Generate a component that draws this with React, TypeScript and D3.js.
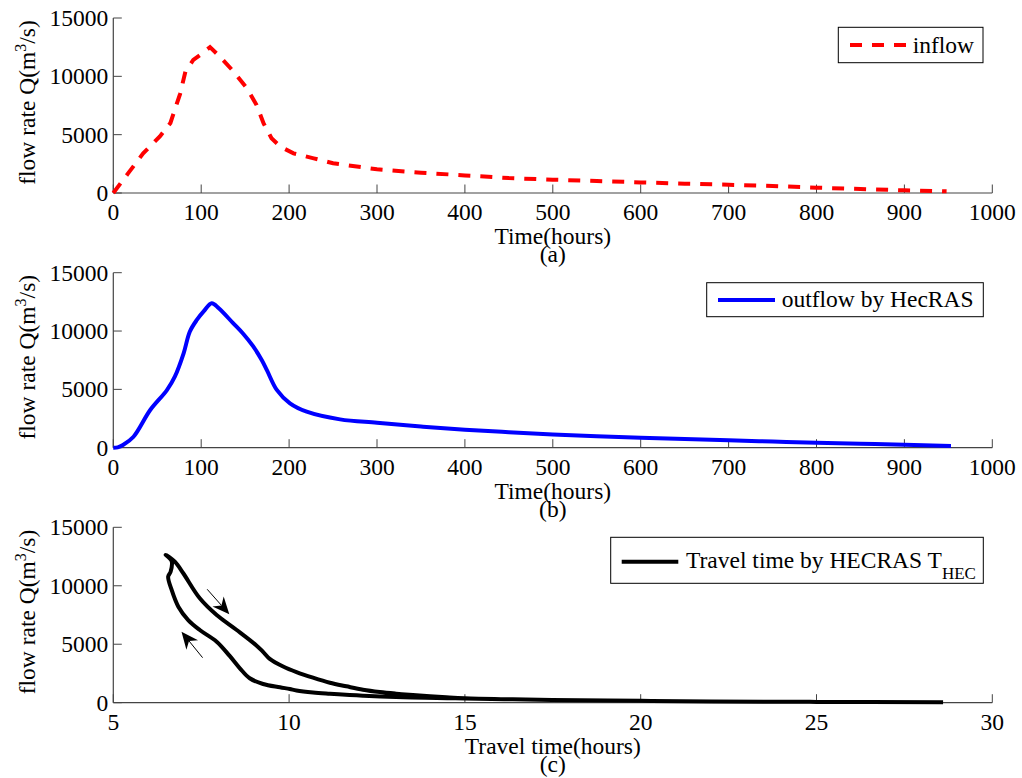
import React from "react";
import * as d3 from "d3";

// ---------- data ----------
const inflowTime = [0, 17, 34, 53, 65, 76, 82, 91, 99, 110, 121, 137, 152, 163, 171, 180, 190, 205, 228, 250, 300, 350, 400, 450, 500, 550, 600, 650, 700, 750, 800, 850, 900, 948];
const inflowQ = [0, 1700, 3400, 4850, 6000, 8500, 10400, 11400, 11850, 12500, 11700, 10400, 8970, 7540, 5970, 4690, 3970, 3400, 2970, 2550, 2030, 1740, 1510, 1280, 1140, 1030, 910, 800, 710, 600, 460, 340, 230, 140];

const outflowTime = [0, 5, 11, 23, 42, 61, 70, 80, 87, 95, 103, 112, 120, 136, 148, 159, 169, 175, 186, 201, 220, 258, 300, 350, 400, 450, 500, 550, 600, 650, 700, 750, 800, 850, 900, 953];
const outflowQ = [0, 30, 230, 940, 3230, 4940, 6090, 8090, 9940, 10950, 11710, 12380, 11950, 10700, 9750, 8700, 7500, 6600, 4950, 3800, 3090, 2430, 2140, 1820, 1540, 1330, 1140, 990, 860, 740, 630, 530, 430, 340, 260, 140];

// travel-time loop: rising limb (lower branch, tail -> tip) then falling limb (upper branch, tip -> tail)
const travelT = [28.6, 25, 22, 20, 18.26, 16.36, 15, 14.5, 13.5, 12.6, 12.1, 11.72, 11.16, 10.68, 10.21, 10.02, 9.74, 9.26, 8.88, 8.6, 8.31, 7.94, 7.46, 7.13, 6.85, 6.66, 6.56, 6.63, 6.66, 6.49,
  6.75, 6.99, 7.46, 7.94, 8.51, 9.07, 9.26, 9.45, 9.83, 10.21, 10.68, 11.16, 11.63, 12.1, 12.58, 13.05, 13.52, 14.47, 15, 16.36, 18.26, 20, 22, 25, 28.6];
const travelQ = [30, 70, 110, 160, 200, 285, 360, 390, 440, 530, 600, 660, 770, 880, 1050, 1170, 1320, 1600, 2090, 2940, 4000, 5220, 6220, 7070, 8210, 9640, 10780, 11200, 12100, 12650,
  12060, 11070, 8930, 7500, 6220, 4900, 4350, 3750, 3100, 2620, 2140, 1710, 1400, 1110, 910, 770, 655, 456, 370, 285, 200, 160, 110, 70, 30];

// annotation arrows (data coordinates: [T, Q] tail -> tip)
const arrowDown = [[7.67, 9700], [8.3, 7560]];
const arrowUp = [[7.54, 3850], [6.94, 6070]];

const timeTicks = [0, 100, 200, 300, 400, 500, 600, 700, 800, 900, 1000];
const travelTicks = [5, 10, 15, 20, 25, 30];
const qTicks = [0, 5000, 10000, 15000];

// ---------- layout ----------
const W = 1022, H = 778;
const X0 = 113.3, X1 = 992.3;
const FONT = "'Liberation Serif', 'Times New Roman', serif";
const FS = 23.5;

type Panel = {
  top: number; bottom: number; domain: [number, number]; ticks: number[];
  xLabel: string; caption: string;
};

const panels: Panel[] = [
  { top: 18, bottom: 193, domain: [0, 1000], ticks: timeTicks, xLabel: "Time(hours)", caption: "(a)" },
  { top: 272.7, bottom: 447.7, domain: [0, 1000], ticks: timeTicks, xLabel: "Time(hours)", caption: "(b)" },
  { top: 527.3, bottom: 702.7, domain: [5, 30], ticks: travelTicks, xLabel: "Travel time(hours)", caption: "(c)" },
];

function Axes({ p, x, y }: { p: Panel; x: d3.ScaleLinear<number, number>; y: d3.ScaleLinear<number, number> }) {
  const axisColor = "#444";
  const midY = (p.top + p.bottom) / 2 - 3;
  return (
    <g fontFamily={FONT} fontSize={FS} fill="#000">
      <line x1={X0} x2={X1} y1={p.bottom} y2={p.bottom} stroke={axisColor} strokeWidth={1.2} />
      <line x1={X0} x2={X0} y1={p.top} y2={p.bottom} stroke={axisColor} strokeWidth={1.2} />
      {p.ticks.map((t) => (
        <g key={"x" + t}>
          <line x1={x(t)} x2={x(t)} y1={p.bottom} y2={p.bottom - 8.5} stroke={axisColor} strokeWidth={1} />
          <text x={x(t)} y={p.bottom + 27} textAnchor="middle">{t}</text>
        </g>
      ))}
      {qTicks.map((q) => (
        <g key={"y" + q}>
          <line x1={X0} x2={X0 + 8.5} y1={y(q)} y2={y(q)} stroke={axisColor} strokeWidth={1} />
          <text x={X0 - 5} y={y(q) + 8} textAnchor="end">{q}</text>
        </g>
      ))}
      <text x={(X0 + X1) / 2} y={p.bottom + 51} textAnchor="middle">{p.xLabel}</text>
      <text x={(X0 + X1) / 2} y={p.bottom + 69} textAnchor="middle">{p.caption}</text>
      <text transform={`translate(35,${midY}) rotate(-90)`} textAnchor="middle">
        flow rate Q(m<tspan dy={-9} fontSize={16}>3</tspan><tspan dy={9}>/s)</tspan>
      </text>
    </g>
  );
}

function Arrow({ pts, x, y }: { pts: number[][]; x: any; y: any }) {
  const x1 = x(pts[0][0]), y1 = y(pts[0][1]);
  const x2 = x(pts[1][0]), y2 = y(pts[1][1]);
  const ang = Math.atan2(y2 - y1, x2 - x1);
  const L = 17, Wd = 7.5;
  const bx = x2 - L * Math.cos(ang), by = y2 - L * Math.sin(ang);
  const nx = -Math.sin(ang), ny = Math.cos(ang);
  const mx = x2 - 0.7 * L * Math.cos(ang), my = y2 - 0.7 * L * Math.sin(ang);
  const head = `M${x2},${y2} L${bx + nx * Wd},${by + ny * Wd} L${mx},${my} L${bx - nx * Wd},${by - ny * Wd} Z`;
  return (
    <g>
      <line x1={x1} y1={y1} x2={mx} y2={my} stroke="#000" strokeWidth={1} />
      <path d={head} fill="#000" />
    </g>
  );
}

export default function App() {
  const xs = panels.map((p) => d3.scaleLinear().domain(p.domain).range([X0, X1]));
  const ys = panels.map((p) => d3.scaleLinear().domain([0, 15000]).range([p.bottom, p.top]));

  const lineA = d3.line<number>().x((_, i) => xs[0](inflowTime[i])).y((d) => ys[0](d)).curve(d3.curveLinear);
  const lineB = d3.line<number>().x((_, i) => xs[1](outflowTime[i])).y((d) => ys[1](d)).curve(d3.curveCatmullRom.alpha(0.5));
  const lineC = d3.line<number>().x((_, i) => xs[2](travelT[i])).y((d) => ys[2](d)).curve(d3.curveCatmullRom.alpha(0.5));

  return (
    <svg width={W} height={H} style={{ position: "absolute", left: 0, top: 0, background: "#fff" }}>
      <rect x={0} y={0} width={W} height={H} fill="#fff" />
      {panels.map((p, i) => (
        <Axes key={i} p={p} x={xs[i]} y={ys[i]} />
      ))}

      {/* panel a */}
      <path d={lineA(inflowQ) || ""} fill="none" stroke="#ff0000" strokeWidth={4} strokeDasharray="12 10" />
      {/* panel b */}
      <path d={lineB(outflowQ) || ""} fill="none" stroke="#0000ff" strokeWidth={4} strokeLinejoin="round" />
      {/* panel c */}
      <path d={lineC(travelQ) || ""} fill="none" stroke="#000" strokeWidth={4} strokeLinejoin="round" />
      <Arrow pts={arrowDown} x={xs[2]} y={ys[2]} />
      <Arrow pts={arrowUp} x={xs[2]} y={ys[2]} />

      {/* legends */}
      <g fontFamily={FONT} fontSize={FS}>
        <rect x={838.3} y={27.3} width={144.7} height={35.4} fill="#fff" stroke="#000" strokeWidth={1} />
        <line x1={850} x2={907} y1={45} y2={45} stroke="#ff0000" strokeWidth={4} strokeDasharray="12 10" />
        <text x={912.7} y={53.3}>inflow</text>

        <rect x={706.7} y={282.7} width={276.6} height={34} fill="#fff" stroke="#000" strokeWidth={1} />
        <line x1={718} x2={775} y1={300} y2={300} stroke="#0000ff" strokeWidth={4} />
        <text x={781.7} y={307}>outflow by HecRAS</text>

        <rect x={610.7} y={537.3} width={372.6} height={46} fill="#fff" stroke="#000" strokeWidth={1} />
        <line x1={621.7} x2={678.3} y1={561.7} y2={561.7} stroke="#000" strokeWidth={4} />
        <text x={686} y={568}>
          Travel time by HECRAS T<tspan dy={11} fontSize={17}>HEC</tspan>
        </text>
      </g>
    </svg>
  );
}
